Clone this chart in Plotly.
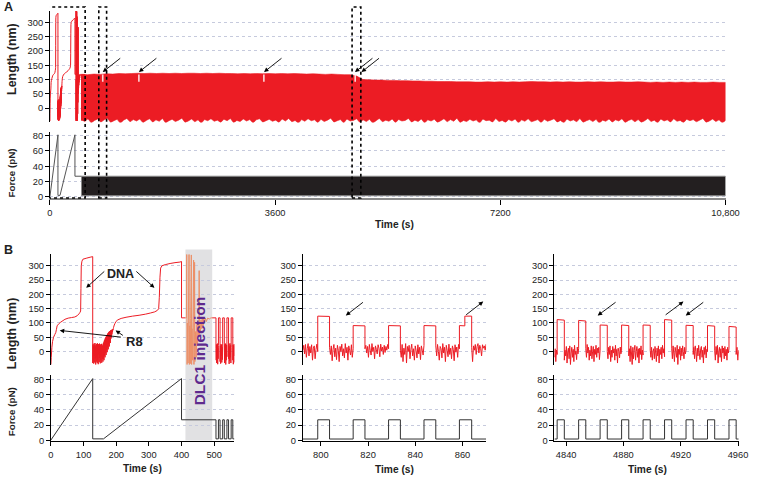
import numpy as np
import plotly.graph_objects as go

RED = "#EC1C24"
SALMON = "#EC9068"
DARK = "#333333"
FONT = "Liberation Sans, Arial, sans-serif"

# ---------------- Panel B left (also first ~560 s of panel A) ----------------
b1_smooth1_t = [0, 1, 3, 5, 8, 12, 15, 17, 19, 23, 30, 43, 53, 63, 73, 80, 86, 89, 91, 92, 93, 95, 98, 110, 120, 128]
b1_smooth1_L = [-45, -20, 15, 35, 50, 60, 67, 78, 90, 96, 103, 113, 117, 119, 121, 125, 132, 137, 142, 220, 300, 316, 323, 327, 330, 332]
b1_noise1_span = [128, 158]
b1_noise1_L = [-40, 25, -30, 20, -42, 28, -15, 22, -38, 30, -25, 18, -45, 24, -20, 27, -35, 15, -40, 29,
               -28, 20, -44, 26, -10, 23, -36, 28, -22, 19, -41, 25, -30, 21, -18, 27, -39, 24, -26, 20]
b1_rise_span = [158.5, 191]
b1_rise_L = [20, -35, 28, -25, 32, -30, 38, -15, 42, -20, 47, -5, 50, -12, 55, 5, 58, -2, 62, 15, 64,
             8, 67, 25, 69, 18, 71, 35, 72, 30, 74, 45, 75, 50, 76, 60, 77, 68, 78, 75, 80]
b1_smooth2_t = [192, 194, 196, 199, 205, 215, 230, 250, 270, 290, 305, 318, 326, 330, 332, 334, 336, 340, 350, 365, 380, 395, 400, 400, 412]
b1_smooth2_L = [85, 93, 98, 105, 111, 116, 120, 124, 127, 131, 135, 139, 144, 150, 190, 260, 292, 300, 304, 308, 311, 313, 315, 118, 118]
# DLC1 injection window (drawn lighter)
b1_inj_t = [412, 415, 416, 417, 418, 420, 421, 423, 424, 425, 427, 428, 430, 431, 432, 434, 435, 437, 438, 439, 440,
            441, 443, 445, 447, 449, 451, 453, 454, 455, 456, 458, 460, 462, 464, 466, 468, 470, 473, 476, 480, 485, 490, 494]
b1_inj_L = [118, 118, 340, -45, 100, -40, 110, 340, -45, 90, -42, 115, 338, -45, 80, -30, 105, 320, -45, 60, 312,
            -35, 70, -20, 95, 20, 100, 50, 283, 60, 110, 70, 112, 80, 114, 90, 116, 100, 117, 105, 117, 114, 118, 118]
b1_hold_t = [494, 505.5]
b1_hold_L = [118, 118]
b1_on = [513, 526, 539, 552]
b1_off = [518, 531, 544, 557]
b1_high = [118, 118, 118, 118]
b1_end = 562
b1_low = [
    [10, -30, 25, -40, 18, -20, 28, -44, 12, -25, 22],
    [-35, 20, -42, 26, -15, 24, -38, 15, -28, 27],
    [20, -40, 25, -22, 28, -45, 16, -30, 24, -18],
    [-25, 26, -43, 18, -32, 29, -20, 22, -40, 15],
    [-30, 24, -44, 20, -15, 26, -38],
]
b1_force_t = [0, 128, 128, 161, 400, 400, 505.5, 505.5, 513, 513, 518, 518, 526, 526, 531, 531, 539, 539, 544, 544, 552, 552, 557, 557, 562]
b1_force_F = [0.5, 81, 2, 2, 81, 27, 27, 2, 2, 27, 27, 2, 2, 27, 27, 2, 2, 27, 27, 2, 2, 27, 27, 2, 2]
inj_window = [412, 494]

# ---------------- Panel B middle ----------------
mid_range = [792.4, 870]
mid_on = [798.7, 813.7, 828.7, 843.7, 858.7]
mid_off = [803.7, 818.7, 833.7, 848.7, 863.9]
mid_plateau_t = [[798.7, 803.7], [813.7, 818.7], [828.7, 833.7], [843.7, 848.7], [858.7, 861.0, 861.0, 863.9]]
mid_plateau_L = [[124, 123], [91, 90], [91, 90], [91, 90], [91, 90, 124, 124]]
mid_low = [
    [5, 22, -8, 25, -20, 10, 28, -15, 18, -5, 24, -30, 12, 20, -25, 8, 26, 0],
    [15, -10, 20, -32, 8, 25, -18, 12, -28, 22, 5, -35, 18, 0, 26, -15, 10, -22, 28, -5, 15, -30, 20, 3, -12, 24, -20, 10],
    [10, 22, -5, 18, -20, 25, 5, -12, 28, 0, 15, -25, 20, 8, -8, 24, 12, -18, 26, 2, 16, -10, 22, -3, 18, 5, 25, 10],
    [5, -20, 25, -35, 12, -10, 28, -40, 18, 0, 22, -25, 8, 26, -15, 10, -30, 20, 3, -22, 24, -8, 15, -28, 20, 5, -12, 22],
    [20, -15, 25, 0, -30, 18, 10, -22, 28, -5, 15, -35, 22, 5, -18, 26, -10, 12, -25, 20, 8, -32, 24, -2, 16, -20, 25, 10],
    [15, -35, 20, 5, 25, -10, 18, 28, -5, 22, 10, -15, 24, 12, 20, 5, 26],
]

# ---------------- Panel B right ----------------
right_range = [4831.8, 4960.5]
right_on = [4833.7, 4848.7, 4863.7, 4878.7, 4893.7, 4908.7, 4923.7, 4938.7, 4953.7]
right_off = [4838.7, 4853.7, 4868.7, 4883.7, 4898.7, 4913.7, 4928.7, 4943.7, 4958.7]
right_plateau_L = [[112, 110], [109, 107], [93, 92], [93, 91], [93, 92], [112, 110], [92, 91], [91, 89], [88, 86]]
right_low = [
    [-20, 10, -35, 5, -10],
    [-30, 5, -15, 18, -40, 0, 12, -25, 20, -45, -5, 15, -20, 8, -35, 22, -10, 2, -28, 16, -8, 10],
    [10, -20, 25, -5, 15, -30, 5, -15, 20, -25, 0, 18, -35, 8, -10, 22, -20, 12, -5, 15, -28, 5],
    [0, -25, 15, -10, 20, -35, 5, -20, 18, -5, 10, -30, 22, -15, 8, -40, 12, 0, -22, 16, -8, 5],
    [-15, 10, -35, 20, -5, -45, 15, -25, 5, 22, -30, 0, 18, -20, 10, -40, 12, -10, 20, -28, 5, -12],
    [5, -20, 15, -30, 0, 10, -25, 18, -5, -35, 12, -15, 20, -40, 8, -10, 15, -25, 22, -5, 10, -18],
    [10, -25, 20, -5, -35, 15, 0, -20, 22, -45, 8, -10, 18, -30, 12, -15, 20, 0, -25, 15, -8, 5],
    [-10, 15, -25, 20, 0, -35, 12, -15, 22, -5, -28, 10, 18, -20, 5, -40, 15, -10, 20, -22, 8, 0],
    [5, -30, 18, -10, 22, -40, 0, 15, -20, 10, -35, 20, -5, 12, -25, 18, -15, 8, -30, 15, -5, 10],
    [-10, 15, -30, 5],
]
force_low = 1.8
force_high = 27

# ---------------- Panel A long trace (envelope of the dense cycling) ----------------
band_span = [505, 10800]
band_upper = [118, 117, 119, 118, 120, 119, 121, 120, 121, 122, 121, 122, 121, 122, 121, 122, 121, 122, 122, 121,
              122, 121, 122, 121, 121, 120, 121, 120, 121, 120, 121, 120, 121, 120, 121, 120, 119, 120, 119, 118,
              119, 118, 117, 117, 112, 100, 99, 98, 98, 97, 97, 96, 96, 95, 95, 94, 94, 93, 93, 93,
              92, 92, 92, 91, 91, 92, 91, 92, 91, 92, 91, 92, 93, 92, 92, 91, 92, 91, 92, 91,
              91, 92, 91, 92, 91, 91, 92, 91, 91, 92, 91, 90, 91, 90, 91, 90, 91, 90, 91, 90, 90, 91, 90, 90]
band_lower = [-40, -47, -37, -52, -43, -38, -49, -41, -35, -50, -44, -39, -53, -42, -36, -48, -40, -45, -38, -51,
              -43, -37, -49, -41, -46, -36, -52, -44, -39, -47, -42, -35, -50, -45, -38, -48, -41, -53, -40, -44,
              -37, -46, -42, -50, -39, -44, -36, -51, -43, -47, -38, -45, -40, -52, -41, -37, -49, -44, -39, -46,
              -42, -50, -38, -45, -36, -48, -43, -53, -40, -46, -37, -44, -41, -51, -39, -47, -42, -35, -49, -44,
              -40, -52, -38, -45, -43, -37, -50, -41, -47, -39, -53, -44, -36, -48, -42, -46, -38, -51, -40, -45,
              -43, -36, -49, -42, -47, -38, -52, -41, -45, -39, -50, -44, -37, -48, -40, -46, -35, -51, -43, -47,
              -39, -45, -41, -53, -38, -44, -42, -49, -36, -47, -43, -50, -40, -45, -38, -52, -41, -46, -37, -48,
              -44, -40, -51, -39, -46, -42, -37, -49, -43, -52, -38, -45, -41, -48, -36, -50, -44, -40, -47, -39,
              -53, -42, -46, -38, -49, -41, -45, -37, -51, -43, -39, -48, -40, -50, -44, -36, -47, -42, -52, -38,
              -45, -41, -49, -37, -46, -43, -51, -39, -44, -40, -48, -42, -36, -50, -45, -38, -47, -41, -52, -43]
gap_t = [844, 1422, 3420, 4880]
gap_L = [92, 118]
force_band_t = [505, 10800]
force_band_F = [1.5, 27]
zoom_boxes = [[-30, 563], [781, 906], [4830, 4970]]
arrowsA_t = [844, 1422, 3422, 4876, 4981]
arrowsA_L = [126, 126, 126, 126, 126]
arrowsM = [[810.6, 126, 18.6, -14.4], [868.8, 175, -18.6, 14.4]]
arrowsR = [[4862.0, 126, 19.4, -14.4], [4921.9, 175, -19.3, 14.4], [4923.5, 126, 19.0, -14.4]]


def seg(span, vals):
    return list(np.linspace(span[0], span[1], len(vals))), list(vals)


def build_cycles(rng, on, off, plat_t, plat_L, lows):
    t, L = [], []
    starts = [rng[0]] + list(off)
    ends = list(on) + [rng[1]]
    for i, vals in enumerate(lows):
        st, sl = seg([starts[i], ends[i]], vals)
        t += st
        L += sl
        if i < len(plat_t):
            t += plat_t[i]
            L += plat_L[i]
    return t, L


def build_force(rng, on, off):
    t, F = [rng[0]], [force_low]
    for a, b in zip(on, off):
        t += [a, a, b, b]
        F += [force_low, force_high, force_high, force_low]
    t.append(rng[1])
    F.append(force_low)
    return t, F


# assemble panel B left
b1_t, b1_L = list(b1_smooth1_t), list(b1_smooth1_L)
for span, vals in [(b1_noise1_span, b1_noise1_L), (b1_rise_span, b1_rise_L)]:
    st, sl = seg(span, vals)
    b1_t += st
    b1_L += sl
b1_t += b1_smooth2_t
b1_L += b1_smooth2_L
b1_post_t, b1_post_L = list(b1_hold_t), list(b1_hold_L)
ct, cl = build_cycles([b1_hold_t[-1], b1_end], b1_on, b1_off,
                      [[a, b] for a, b in zip(b1_on, b1_off)], [[h, h] for h in b1_high], b1_low)
b1_post_t += ct
b1_post_L += cl

mid_t, mid_L = build_cycles(mid_range, mid_on, mid_off, mid_plateau_t, mid_plateau_L, mid_low)
mid_Ft, mid_F = build_force(mid_range, mid_on, mid_off)
r_t, r_L = build_cycles(right_range, right_on, right_off,
                        [[a, b] for a, b in zip(right_on, right_off)], right_plateau_L, right_low)
r_Ft, r_F = build_force(right_range, right_on, right_off)

bu_t = list(np.linspace(band_span[0], band_span[1], len(band_upper)))
bl_t = list(np.linspace(band_span[0], band_span[1], len(band_lower)))

fig = go.Figure()


def line(x, y, xa, ya, color, width=1.0, **kw):
    fig.add_trace(go.Scatter(x=x, y=y, xaxis=xa, yaxis=ya, mode="lines",
                             line=dict(color=color, width=width, simplify=False), hoverinfo="skip",
                             showlegend=False, **kw))


# Panel A length
line(b1_t + b1_inj_t + b1_post_t, b1_L + b1_inj_L + b1_post_L, "x", "y", RED, 1.0)
fig.add_trace(go.Scatter(x=bu_t + bl_t[::-1], y=band_upper + band_lower[::-1], xaxis="x", yaxis="y",
                         mode="lines", fill="toself", fillcolor=RED,
                         line=dict(width=0.6, color=RED, simplify=False),
                         hoverinfo="skip", showlegend=False))
for g in gap_t:
    line([g, g], gap_L, "x", "y", "rgba(255,235,235,0.9)", 1.6)

# Panel A force
idx = [i for i, t in enumerate(b1_force_t) if t <= 505.5][:7]
line([b1_force_t[i] for i in idx], [b1_force_F[i] for i in idx], "x2", "y2", "#555555", 1.0)
fig.add_trace(go.Scatter(x=[force_band_t[0], force_band_t[1], force_band_t[1], force_band_t[0], force_band_t[0]],
                         y=[force_band_F[1], force_band_F[1], force_band_F[0], force_band_F[0], force_band_F[1]],
                         xaxis="x2", yaxis="y2", mode="lines", fill="toself", fillcolor="#231F20",
                         line=dict(color="#8a8a8a", width=1), hoverinfo="skip", showlegend=False))

# Panel B left
line(b1_t, b1_L, "x3", "y3", RED, 1.0)
line(b1_inj_t, b1_inj_L, "x3", "y3", SALMON, 1.0)
line(b1_post_t, b1_post_L, "x3", "y3", RED, 1.0)
line(b1_force_t, b1_force_F, "x4", "y4", DARK, 1.0)
# Panel B middle
line(mid_t, mid_L, "x5", "y5", RED, 1.0)
line(mid_Ft, mid_F, "x6", "y6", DARK, 1.0)
# Panel B right
line(r_t, r_L, "x7", "y7", RED, 1.0)
line(r_Ft, r_F, "x8", "y8", DARK, 1.0)

W, H = 763, 482


def px_x(p):
    return p / W


def px_y(p):
    return 1 - p / H


GRID = "#c6cadd"
tickfont = dict(family=FONT, size=9.3, color="#222")


def yax(domain, rng, vals, anchor):
    return dict(domain=domain, range=rng, anchor=anchor, tickvals=vals, showline=True, linecolor="black",
                linewidth=1, ticks="outside", ticklen=4, tickcolor="black", tickwidth=1, showgrid=True,
                gridcolor=GRID, griddash="dot", gridwidth=1, zeroline=False, tickfont=tickfont, fixedrange=True)


def xax_hidden(domain, rng, anchor):
    return dict(domain=domain, range=rng, anchor=anchor, showticklabels=False, showline=False, ticks="",
                showgrid=False, zeroline=False, fixedrange=True)


def xax(domain, rng, anchor, vals, text=None, color="black", width=1, ticklen=4):
    d = dict(domain=domain, range=rng, anchor=anchor, tickvals=vals, showline=True, linecolor=color,
             linewidth=width, ticks="outside", ticklen=ticklen, tickcolor="black", tickwidth=1,
             showgrid=False, zeroline=False, tickfont=tickfont, fixedrange=True)
    if text:
        d["ticktext"] = text
    return d


len_ticks = [0, 50, 100, 150, 200, 250, 300]
f_ticks = [0, 20, 40, 60, 80]
A_x = [px_x(48), px_x(739)]
BL_x = [px_x(49), px_x(236.7)]
BM_x = [px_x(306.7), px_x(494.1)]
BR_x = [px_x(564), px_x(752.5)]
A_len_y = [px_y(122.7), px_y(10)]
A_f_y = [px_y(199.3), px_y(132.5)]
B_len_y = [px_y(368.3), px_y(256)]
B_f_y = [px_y(445), px_y(378)]
B_len_rng = [-48.5, 340]
B_f_rng = [-1.3, 85.6]

fig.update_layout(
    width=W, height=H, margin=dict(l=0, r=0, t=0, b=0),
    paper_bgcolor="white", plot_bgcolor="rgba(0,0,0,0)", showlegend=False,
    font=dict(family=FONT, color="#222"),
    xaxis=xax_hidden(A_x, [0, 10800], "y"),
    yaxis=yax(A_len_y, [-50, 340], len_ticks, "x"),
    xaxis2=xax(A_x, [0, 10800], "y2", [0, 3600, 7200, 10800], ["0", "3600", "7200", "10,800"],
               color="#8a8a8a", width=2, ticklen=5),
    yaxis2=yax(A_f_y, [-1.7, 84.5], f_ticks, "x2"),
    xaxis3=xax_hidden(BL_x, [0, 562], "y3"),
    yaxis3=yax(B_len_y, B_len_rng, len_ticks, "x3"),
    xaxis4=xax(BL_x, [0, 562], "y4", [0, 100, 200, 300, 400, 500]),
    yaxis4=yax(B_f_y, B_f_rng, f_ticks, "x4"),
    xaxis5=xax_hidden(BM_x, mid_range, "y5"),
    yaxis5=yax(B_len_y, B_len_rng, len_ticks, "x5"),
    xaxis6=xax(BM_x, mid_range, "y6", [800, 820, 840, 860]),
    yaxis6=yax(B_f_y, B_f_rng, f_ticks, "x6"),
    xaxis7=xax_hidden(BR_x, right_range, "y7"),
    yaxis7=yax(B_len_y, B_len_rng, len_ticks, "x7"),
    xaxis8=xax(BR_x, right_range, "y8", [4840, 4880, 4920, 4960]),
    yaxis8=yax(B_f_y, B_f_rng, f_ticks, "x8"),
)

shapes = []
shapes.append(dict(type="rect", xref="x3", yref="paper", x0=inj_window[0], x1=inj_window[1],
                   y0=px_y(444), y1=px_y(251), fillcolor="#e1e1e3", line=dict(width=0), layer="below"))
for b in zoom_boxes:
    shapes.append(dict(type="rect", xref="x", yref="paper", x0=b[0], x1=b[1], y0=px_y(199), y1=px_y(6),
                       line=dict(color="black", width=1.6, dash="dot"), fillcolor="rgba(0,0,0,0)", layer="above"))
fig.update_layout(shapes=shapes)

ann = []
bold = lambda s: "<b>" + s + "</b>"


def txt(x, y, s, size, angle=0, color="#222", xref="paper", yref="paper"):
    ann.append(dict(x=x, y=y, xref=xref, yref=yref, text=s, showarrow=False, textangle=angle,
                    font=dict(family=FONT, size=size, color=color), xanchor="center", yanchor="middle"))


def arrow(x, y, ax, ay, xa, ya, axref="pixel", ayref="pixel"):
    d = dict(x=x, y=y, xref=xa, yref=ya, ax=ax, ay=ay, text="", showarrow=True, arrowhead=2,
             arrowsize=1, arrowwidth=0.9, arrowcolor="black", standoff=0)
    if axref != "pixel":
        d["axref"] = axref
        d["ayref"] = ayref
    ann.append(d)


txt(px_x(6), px_y(6), bold("A"), 12.5)
txt(px_x(6), px_y(252), bold("B"), 12.5)
txt(px_x(9), px_y(58.7), bold("Length (nm)"), 12.4, -90)
txt(px_x(9), px_y(173.5), bold("Force (pN)"), 9.8, -90)
txt(px_x(9), px_y(336), bold("Length (nm)"), 12.4, -90)
txt(px_x(9), px_y(414.7), bold("Force (pN)"), 9.8, -90)
txt(px_x(400.7), px_y(225.7), bold("Time (s)"), 10.2)
txt(px_x(143), px_y(472), bold("Time (s)"), 10.2)
txt(px_x(400.8), px_y(473), bold("Time (s)"), 10.2)
txt(px_x(659.3), px_y(473), bold("Time (s)"), 10.2)
txt(453.6, px_y(354), bold("DLC1 injection"), 15.5, -90, color="#5E2A8E", xref="x3")
txt(213, 271, bold("DNA"), 12.5, xref="x3", yref="y3")
txt(257, 36, bold("R8"), 13, xref="x3", yref="y3")
# DNA and R8 pointers (tail in data coords)
arrow(108, 223, 168, 285, "x3", "y3", "x3", "y3")
arrow(317, 223, 257, 285, "x3", "y3", "x3", "y3")
arrow(27, 74, 219, 50, "x3", "y3", "x3", "y3")
arrow(198, 74, 225, 53, "x3", "y3", "x3", "y3")
for t, L in zip(arrowsA_t, arrowsA_L):
    arrow(t, L, 19, -15, "x", "y")
for a in arrowsM:
    arrow(a[0], a[1], a[2], a[3], "x5", "y5")
for a in arrowsR:
    arrow(a[0], a[1], a[2], a[3], "x7", "y7")
fig.update_layout(annotations=ann)

fig.write_html("out.html", config={"displayModeBar": False},
               post_script="document.body.style.margin='0';document.body.style.overflow='hidden';")
